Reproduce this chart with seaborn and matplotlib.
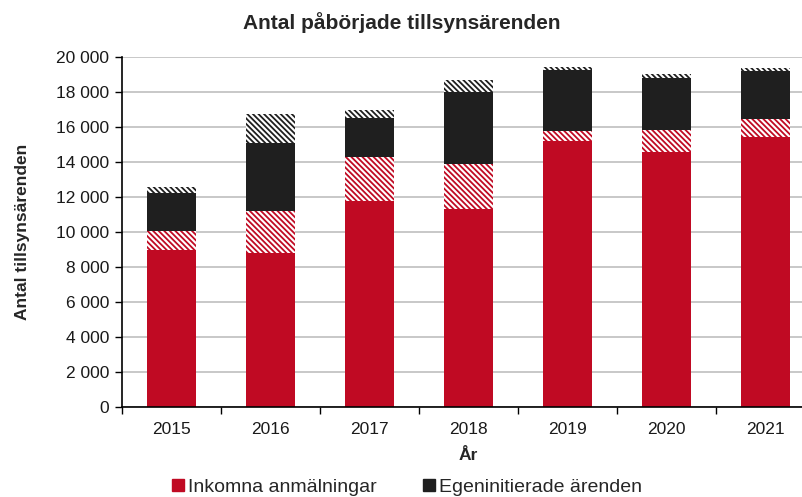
import pandas as pd
import matplotlib.pyplot as plt
import seaborn as sns
from matplotlib.lines import Line2D
from matplotlib.ticker import FuncFormatter, FixedLocator

# Data (stacked segments)
years = ['2015', '2016', '2017', '2018', '2019', '2020', '2021']
inkomna = [8950, 8800, 11750, 11300, 15200, 14600, 15450]
inkomna_hatch = [1100, 2400, 2550, 2600, 550, 1250, 1000]
egen = [2200, 3900, 2200, 4100, 3500, 2950, 2750]
egen_hatch = [300, 1650, 500, 700, 200, 250, 200]

red = '#C00A23'
black = '#1F1F1F'

df = pd.DataFrame({'year': years, 'inkomna': inkomna, 'inkomna_hatch': inkomna_hatch,
                   'egen': egen, 'egen_hatch': egen_hatch})
df['c1'] = df['inkomna']
df['c2'] = df['c1'] + df['inkomna_hatch']
df['c3'] = df['c2'] + df['egen']
df['c4'] = df['c3'] + df['egen_hatch']

sns.set_style('white')
plt.rcParams['font.family'] = ['Liberation Sans', 'DejaVu Sans']
plt.rcParams['hatch.linewidth'] = 1.3

fig = plt.figure(figsize=(8.03, 4.97), dpi=100)
ax = fig.add_axes([122 / 803, 90 / 497, 693 / 803, 350 / 497])

# draw from tallest to shortest so each layer covers the one behind
layers = [('c4', black, True), ('c3', black, False), ('c2', red, True), ('c1', red, False)]
for col, color, hatched in layers:
    if hatched:
        sns.barplot(data=df, x='year', y=col, color='white', edgecolor=color,
                    hatch='\\' * 6, linewidth=0, width=0.5, saturation=1, ax=ax, zorder=2)
    else:
        sns.barplot(data=df, x='year', y=col, color=color, linewidth=0,
                    width=0.5, saturation=1, ax=ax, zorder=2)

ax.set_ylim(0, 20000)
ax.set_xlim(-0.5, 6.5)
ax.yaxis.set_major_locator(FixedLocator(range(0, 20001, 2000)))
ax.yaxis.set_major_formatter(FuncFormatter(lambda v, _: f'{v:,.0f}'.replace(',', ' ')))
ax.grid(axis='y', color='#C4C4C4', linewidth=1.3, zorder=0)
ax.set_axisbelow(True)

ax.xaxis.set_minor_locator(FixedLocator([i - 0.5 for i in range(len(years) + 1)]))
ax.tick_params(axis='x', which='major', length=0, labelsize=12.5, pad=11, labelcolor='#1a1a1a')
ax.tick_params(axis='x', which='minor', length=5, width=1, direction='out', bottom=True, color='black')
ax.tick_params(axis='y', length=5, width=1, direction='out', left=True, labelsize=12.5,
               pad=4, color='black', labelcolor='#1a1a1a')

for s in ['top', 'right']:
    ax.spines[s].set_visible(False)
for s in ['left', 'bottom']:
    ax.spines[s].set_color('black')
    ax.spines[s].set_linewidth(1.2)

ax.set_xlabel('År', fontsize=12.5, fontweight='bold', labelpad=8)
ax.set_ylabel('Antal tillsynsärenden', fontsize=12.5, fontweight='bold', labelpad=19)
fig.suptitle('Antal påbörjade tillsynsärenden', fontsize=15, fontweight='bold',
             x=0.5, y=1 - 23 / 497, va='center')

handles = [Line2D([], [], marker='s', linestyle='none', color=red, markersize=9),
           Line2D([], [], marker='s', linestyle='none', color=black, markersize=9)]
fig.legend(handles, ['Inkomna anmälningar', 'Egeninitierade ärenden'], loc='center',
           bbox_to_anchor=(405 / 803, 1 - 487 / 497), ncol=2, frameon=False,
           fontsize=14, handletextpad=0.0, columnspacing=2.2, handlelength=1.0)

fig.savefig('out.png', dpi=100)
